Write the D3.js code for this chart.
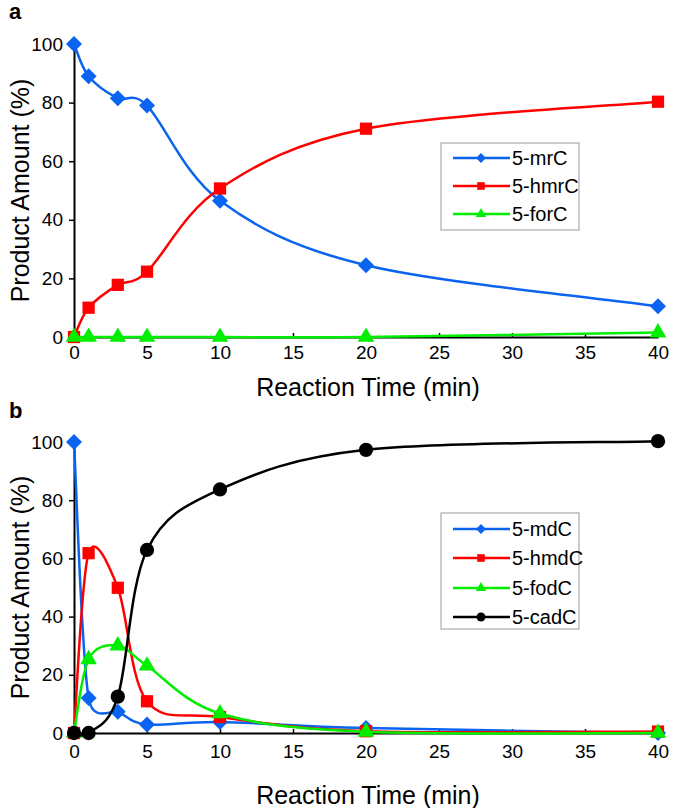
<!DOCTYPE html>
<html>
<head>
<meta charset="utf-8">
<script src="https://cdn.jsdelivr.net/npm/d3@7"></script>
<style>
html,body{margin:0;padding:0;background:#fff;}
svg text{font-family:"Liberation Sans",Arial,sans-serif;fill:#000;}
</style>
</head>
<body>
<svg id="chart" width="674" height="808"></svg>
<script>
// ---- data ----
const times = [0, 1, 3, 5, 10, 20, 40];
const xTicks = [0, 5, 10, 15, 20, 25, 30, 35, 40];
const yTicks = [0, 20, 40, 60, 80, 100];

// panel a
const mrC  = [100, 89, 81.5, 79, 46.5, 24.5, 10.5];
const hmrC = [0, 10, 17.8, 22.3, 50.7, 71.1, 80.3];
const forC = [0, 0, 0, 0, 0, 0, 1.5];

// panel b
const mdC  = [100, 12, 7.3, 2.9, 3.8, 1.7, 0];
const hmdC = [0, 61.8, 49.9, 10.9, 5.5, 0.6, 0.5];
const fodC = [0, 25.3, 30, 23.1, 6.7, 0.4, 0];
const cadC = [0, 0, 12.5, 62.9, 83.7, 97.3, 100.3];

const namesA = ["5-mrC", "5-hmrC", "5-forC"];
const namesB = ["5-mdC", "5-hmdC", "5-fodC", "5-cadC"];

const colors = {blue:"#0a64f0", red:"#ff0000", green:"#00ee00", black:"#000000"};

const svg = d3.select("#chart");

function marker(g, type, x, y, color, big) {
  const s = big ? 1 : 0.62;
  let sym, size, rot = 0;
  if (type === "diamond") { sym = d3.symbolSquare; size = 128 * s * s; rot = 45; }
  else if (type === "square") { sym = d3.symbolSquare; size = 150 * s * s; }
  else if (type === "triangle") { sym = d3.symbolTriangle; size = 120 * s * s; }
  else { sym = d3.symbolCircle; size = 160 * s * s; }
  g.append("path")
    .attr("d", d3.symbol().type(sym).size(size)())
    .attr("transform", `translate(${x},${y}) rotate(${rot})`)
    .attr("fill", color);
}

// spreadsheet-style smoothed line (Bezier, 1/6 tangents, limited to segment length)
function smoothPath(pts) {
  const p = d3.path();
  p.moveTo(pts[0][0], pts[0][1]);
  const n = pts.length;
  for (let i = 0; i < n - 1; i++) {
    const p0 = pts[Math.max(i - 1, 0)], p1 = pts[i], p2 = pts[i + 1], p3 = pts[Math.min(i + 2, n - 1)];
    let t1 = [(p2[0] - p0[0]) / 6, (p2[1] - p0[1]) / 6];
    let t2 = [(p3[0] - p1[0]) / 6, (p3[1] - p1[1]) / 6];
    const L = Math.hypot(p2[0] - p1[0], p2[1] - p1[1]);
    const d1 = Math.hypot(t1[0], t1[1]), d2 = Math.hypot(t2[0], t2[1]);
    if (d1 + d2 > L && d1 + d2 > 0) {
      const k = L / (d1 + d2);
      t1 = [t1[0] * k, t1[1] * k]; t2 = [t2[0] * k, t2[1] * k];
    }
    p.bezierCurveTo(p1[0] + t1[0], p1[1] + t1[1], p2[0] - t2[0], p2[1] - t2[1], p2[0], p2[1]);
  }
  return p.toString();
}

function panel(opts) {
  const x = d3.scaleLinear().domain([0, 40]).range([74, 658]);
  const y = d3.scaleLinear().domain([0, 100]).range([opts.y0, opts.y100]);
  const g = svg.append("g");

  const xa = g.append("g").attr("transform", `translate(0,${opts.y0})`)
    .call(d3.axisBottom(x).tickValues(xTicks).tickSizeInner(-4).tickSizeOuter(0).tickPadding(opts.xPad));
  xa.select(".domain").attr("stroke", "#000").attr("stroke-width", 2);
  xa.selectAll(".tick line").attr("stroke", "#000").attr("stroke-width", 1.5);
  xa.selectAll("text").attr("font-size", 19).style("font-family", "Liberation Sans, Arial, sans-serif");

  const ya = g.append("g").attr("transform", `translate(74,0)`)
    .call(d3.axisLeft(y).tickValues(yTicks).tickSizeInner(5).tickSizeOuter(0).tickPadding(6));
  ya.select(".domain").attr("stroke", "#000").attr("stroke-width", 2);
  ya.selectAll(".tick line").attr("stroke", "#000").attr("stroke-width", 1.5);
  ya.selectAll("text").attr("font-size", 19).style("font-family", "Liberation Sans, Arial, sans-serif");

  g.append("text").attr("x", 368).attr("y", opts.titleY).attr("text-anchor", "middle")
    .attr("font-size", 25).text("Reaction Time (min)");
  const cy = (opts.y0 + opts.y100) / 2;
  g.append("text").attr("transform", `translate(29,${cy}) rotate(-90)`).attr("text-anchor", "middle")
    .attr("font-size", 25).text("Product Amount (%)");
  g.append("text").attr("x", 9).attr("y", opts.letterY).attr("font-size", 22).attr("font-weight", "bold")
    .text(opts.letter);

  opts.series.forEach(s => {
    const pts = s.values.map((v, i) => [x(times[i]), y(v)]);
    g.append("path").attr("d", smoothPath(pts)).attr("fill", "none")
      .attr("stroke", s.color).attr("stroke-width", 2.5);
    s.values.forEach((v, i) => marker(g, s.type, x(times[i]), y(v), s.color, true));
  });

  const L = opts.legend;
  g.append("rect").attr("x", 441).attr("y", L.top).attr("width", 138).attr("height", L.h)
    .attr("fill", "#fff").attr("stroke", "#999").attr("stroke-width", 1);
  opts.series.forEach((s, i) => {
    const ry = L.rows[i];
    g.append("line").attr("x1", 453).attr("x2", 510).attr("y1", ry).attr("y2", ry)
      .attr("stroke", s.color).attr("stroke-width", 2.5);
    marker(g, s.type, 481, ry, s.color, false);
    g.append("text").attr("x", 512).attr("y", ry + 7).attr("font-size", 20).text(s.name);
  });
}

panel({
  y0: 337, y100: 44, xPad: 9, titleY: 396, letter: "a", letterY: 19,
  series: [
    {name: namesA[0], values: mrC, color: colors.blue, type: "diamond"},
    {name: namesA[1], values: hmrC, color: colors.red, type: "square"},
    {name: namesA[2], values: forC, color: colors.green, type: "triangle"}
  ],
  legend: {top: 143, h: 87, rows: [158, 186, 214]}
});

panel({
  y0: 733, y100: 442, xPad: 12, titleY: 804, letter: "b", letterY: 418,
  series: [
    {name: namesB[0], values: mdC, color: colors.blue, type: "diamond"},
    {name: namesB[1], values: hmdC, color: colors.red, type: "square"},
    {name: namesB[2], values: fodC, color: colors.green, type: "triangle"},
    {name: namesB[3], values: cadC, color: colors.black, type: "circle"}
  ],
  legend: {top: 513, h: 116, rows: [529, 558, 588, 617]}
});
</script>
</body>
</html>
